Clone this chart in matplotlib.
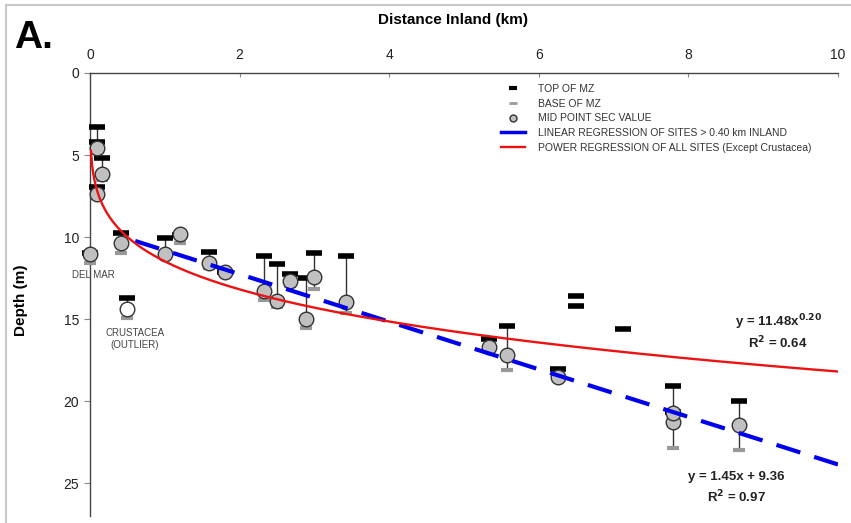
import numpy as np
import matplotlib
matplotlib.use("Agg")
import matplotlib.pyplot as plt
from matplotlib.lines import Line2D
from matplotlib.patches import Rectangle

plt.rcParams['font.family'] = ['Liberation Sans', 'DejaVu Sans']

# --- site data: distance inland (km), top / mid / base of mixing zone (m) ---
site_x = [0.10, 0.16, 0.10, 0.00, 0.42, 1.00, 1.20, 1.59, 1.80, 2.33, 2.50,
          2.67, 2.89, 3.00, 3.42, 5.33, 5.58, 6.25, 7.80, 7.80, 8.67]
site_top = [3.27, 5.16, 6.93, 11.00, 9.74, 10.06, 9.85, 10.91, 12.10, 11.16, 11.67,
            12.28, 12.48, 10.96, 11.16, 16.22, 15.43, 18.07, 19.07, 20.65, 19.98]
site_mid = [4.55, 6.18, 7.38, 11.06, 10.39, 11.06, 9.82, 11.57, 12.12, 13.27, 13.88,
            12.68, 15.02, 12.42, 13.98, 16.69, 17.20, 18.52, 21.26, 20.75, 21.46]
site_base = [4.80, 6.50, 7.60, 11.60, 11.00, 11.30, 10.35, 11.90, 12.30, 13.84, 14.29,
             13.00, 15.57, 13.19, 14.60, 16.90, 18.11, 18.70, 22.88, 20.90, 22.95]

# outlier (not used in the fits)
crus_x, crus_top, crus_mid, crus_base = 0.50, 13.74, 14.39, 14.96

# sites with only a top of MZ
top_only_x = [0.10, 6.50, 6.50, 7.13]
top_only_y = [4.23, 13.58, 14.19, 15.60]

# regression coefficients
lin_slope, lin_icept = 1.45, 9.36
pow_a, pow_b = 11.48, 0.20

fig = plt.figure(figsize=(8.51, 5.23), dpi=100)
ax = fig.add_axes([90 / 851, 1 - 516 / 523, 748 / 851, 443 / 523])

# light frame round the figure
fig.patches.append(Rectangle((6 / 851, -0.05), 1.2, 1.05 - 5 / 523, transform=fig.transFigure,
                             fill=False, edgecolor='#c8c8c8', linewidth=1.5))

# vertical range lines
for x, t, b in zip(site_x + [crus_x], site_top + [crus_top], site_base + [crus_base]):
    ax.plot([x, x], [t, b], color='#333333', lw=1.0, zorder=2, clip_on=False)

ax.plot(site_x + top_only_x + [crus_x], site_top + top_only_y + [crus_top], ls='none',
        marker='_', ms=11, mew=4, color='black', zorder=3, clip_on=False)
ax.plot(site_x + [crus_x], site_base + [crus_base], ls='none', marker='_', ms=9,
        mew=3, color='#999999', zorder=3, clip_on=False)
ax.plot(site_x, site_mid, ls='none', marker='o', ms=10.5, mfc='#c0c0c0',
        mec='#333333', mew=1.0, zorder=4, clip_on=False)
ax.plot([crus_x], [crus_mid], ls='none', marker='o', ms=10.5, mfc='white',
        mec='#333333', mew=1.0, zorder=4, clip_on=False)

# regressions (linear drawn right-to-left so a dash ends at x = 10)
xl = np.linspace(10, 0.42, 200)
ax.plot(xl, lin_slope * xl + lin_icept, color='#0000ee', lw=3, dashes=(6, 3.5), zorder=5)
xp = np.linspace(0.012, 10, 600)
ax.plot(xp, pow_a * xp ** pow_b, color='#ee1111', lw=1.7, zorder=5)

ax.set_xlim(0, 10)
ax.set_ylim(27, 0)
ax.xaxis.tick_top()
ax.xaxis.set_label_position('top')
ax.set_xticks([0, 2, 4, 6, 8, 10])
ax.set_yticks([0, 5, 10, 15, 20, 25])
for s in ('right', 'bottom'):
    ax.spines[s].set_visible(False)
for s in ('left', 'top'):
    ax.spines[s].set_color('#444444')
    ax.spines[s].set_linewidth(1.0)
ax.tick_params(axis='x', direction='in', length=3, color='#888888', labelsize=10, pad=8,
               labelcolor='#222222')
ax.tick_params(axis='y', direction='out', length=4, color='#888888', labelsize=10, pad=4,
               labelcolor='#222222')

ax.set_xlabel('Distance Inland (km)', fontsize=11, fontweight='bold')
ax.xaxis.set_label_coords(0.485, 1.11)
ax.set_ylabel('Depth (m)', fontsize=11, fontweight='bold')
ax.yaxis.set_label_coords(-0.083, 0.486)

fig.text(14 / 851, 1 - 48 / 523, 'A.', fontsize=28, fontweight='bold')

ax.text(0.05, 12.3, 'DEL MAR', fontsize=7, color='#444444', ha='center', va='center')
ax.text(0.6, 15.85, 'CRUSTACEA', fontsize=7, color='#444444', ha='center', va='center')
ax.text(0.6, 16.6, '(OUTLIER)', fontsize=7, color='#444444', ha='center', va='center')

ax.text(9.2, 15.2, r'y = 11.48x$^{\mathbf{0.20}}$', fontsize=9.5, fontweight='bold',
        ha='center', va='center', color='#222222')
ax.text(9.2, 16.45, r'R$^{\mathbf{2}}$ = 0.64', fontsize=9.5, fontweight='bold',
        ha='center', va='center', color='#222222')
ax.text(8.64, 24.6, 'y = 1.45x + 9.36', fontsize=9.5, fontweight='bold',
        ha='center', va='center', color='#222222')
ax.text(8.64, 25.85, r'R$^{\mathbf{2}}$ = 0.97', fontsize=9.5, fontweight='bold',
        ha='center', va='center', color='#222222')

handles = [
    Line2D([], [], ls='none', marker='_', ms=6, mew=3, color='black'),
    Line2D([], [], ls='none', marker='_', ms=6, mew=2, color='#999999'),
    Line2D([], [], ls='none', marker='o', ms=5, mfc='#c0c0c0', mec='#333333', mew=1),
    Line2D([], [], color='#0000ee', lw=2.5),
    Line2D([], [], color='#ee1111', lw=1.7),
]
labels = ['TOP OF MZ', 'BASE OF MZ', 'MID POINT SEC VALUE',
          'LINEAR REGRESSION OF SITES > 0.40 km INLAND',
          'POWER REGRESSION OF ALL SITES (Except Crustacea)']
leg = ax.legend(handles, labels, loc='upper left', bbox_to_anchor=(0.55, 0.975),
                frameon=False, fontsize=7.5, handlelength=2.3, handletextpad=1.2,
                labelspacing=0.45, borderpad=0, borderaxespad=0)
for t in leg.get_texts():
    t.set_color('#333333')

fig.savefig('out.png', dpi=100)
